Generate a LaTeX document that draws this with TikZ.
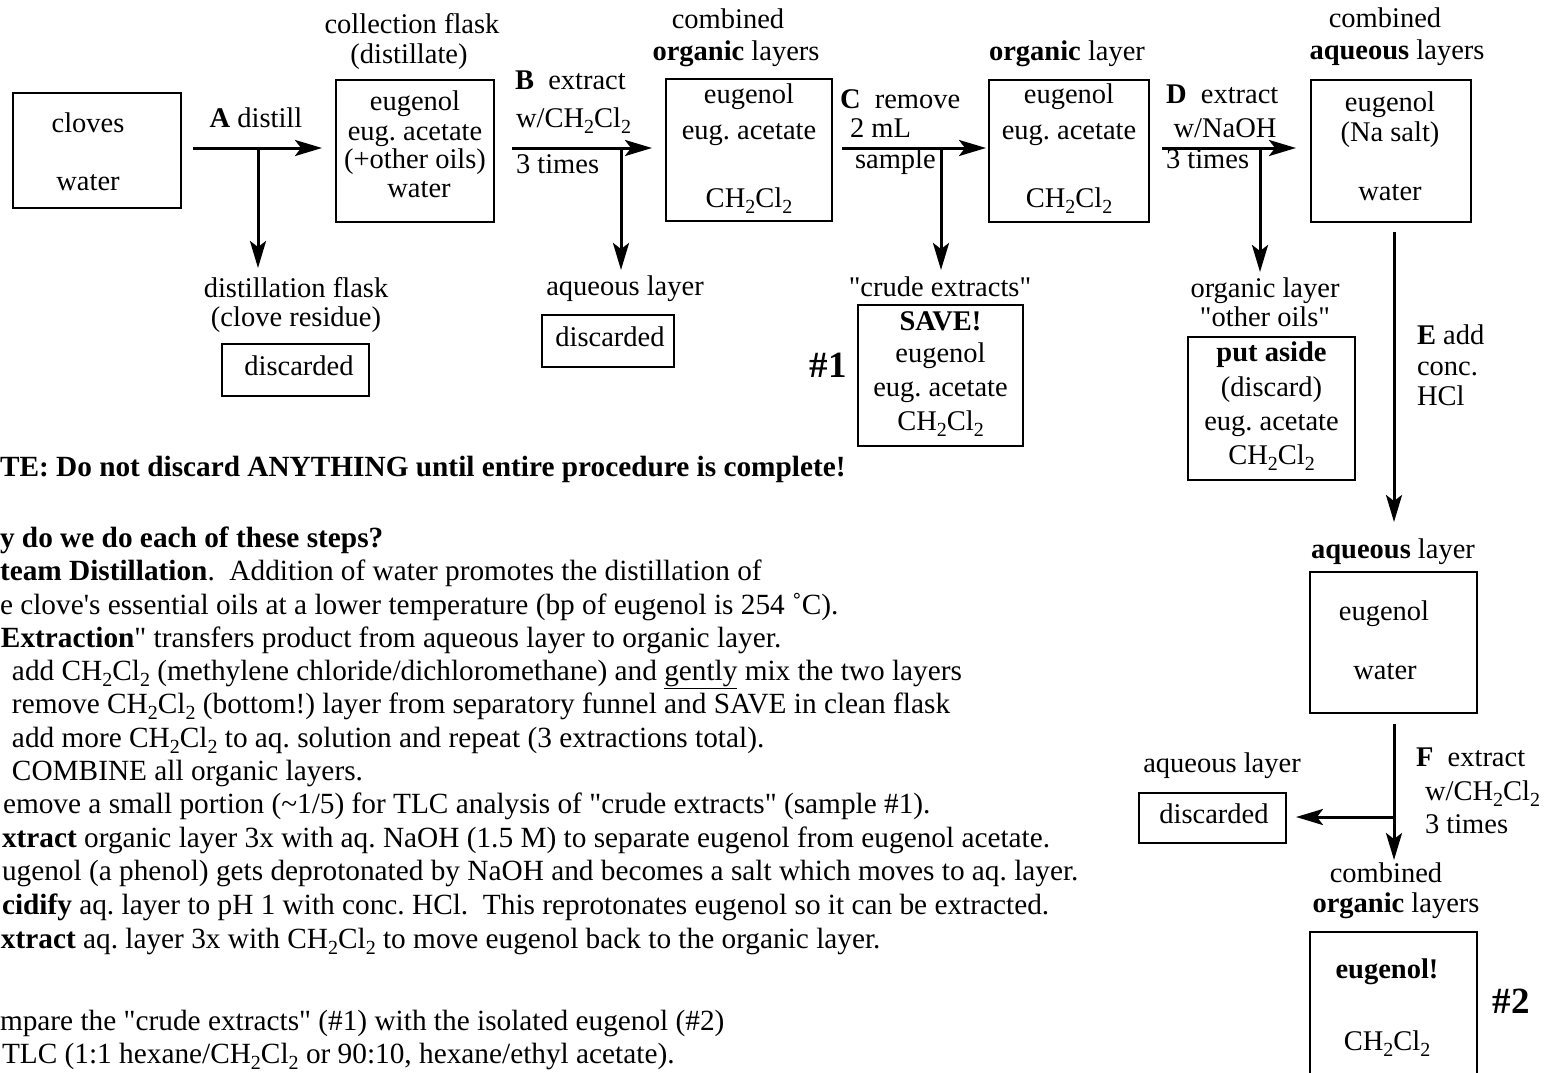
\documentclass[tikz,border=0pt]{standalone}
\usepackage{fontspec}
\setmainfont{Liberation Serif}
\usetikzlibrary{arrows.meta}
\newcommand\sbt[1]{\lower6pt\hbox{\fontsize{20}{20}\selectfont #1}}
\newcommand\chcl{CH\sbt{2}Cl\sbt{2}}
\newcommand\dq{\textquotedbl}
\begin{document}
\frenchspacing
\begin{tikzpicture}[x=1pt, y=-1pt,
  every node/.style={inner sep=0pt, outer sep=0pt},
  tx/.style={anchor=base, font=\fontsize{28.5}{33}\selectfont\frenchspacing},
  txl/.style={anchor=base west, font=\fontsize{28.5}{33}\selectfont\frenchspacing},
  nt/.style={anchor=base west, font=\fontsize{29.3}{33}\selectfont\frenchspacing},
  big/.style={anchor=base, font=\fontsize{37}{40}\selectfont\bfseries},
  box/.style={draw, line width=2pt},
  arr/.style={line width=3pt, -{Stealth[length=27pt,width=16pt,inset=6pt]}}]
\useasboundingbox (0,0) rectangle (1550,1072);
\clip (0,0) rectangle (1550,1072);

% ---------- boxes ----------
\node[box, minimum width=168pt, minimum height=115pt] (a) at (97,150.5) {};
\node[box, minimum width=158pt, minimum height=142pt] (b) at (415,151) {};
\node[box, minimum width=166pt, minimum height=142pt] (c) at (749,150) {};
\node[box, minimum width=160pt, minimum height=142pt] (d) at (1069,151) {};
\node[box, minimum width=160pt, minimum height=142pt] (e) at (1391,151) {};
\node[box, minimum width=147pt, minimum height=52pt] (r1) at (295.5,370) {};
\node[box, minimum width=132pt, minimum height=52pt] (r2) at (608,341) {};
\node[box, minimum width=165pt, minimum height=141pt] (s1) at (940.5,375.5) {};
\node[box, minimum width=167pt, minimum height=143pt] (s2) at (1271.5,408.5) {};
\node[box, minimum width=167pt, minimum height=141pt] (f) at (1393.5,642.5) {};
\node[box, minimum width=147pt, minimum height=50pt] (r3) at (1212.5,818) {};
\node[box, minimum width=167pt, minimum height=150pt] (g) at (1393.5,1007) {};

% ---------- box contents ----------
\node[tx] (a1) at (88,132) {cloves};
\node[tx] (a2) at (88,190) {water};
\node[tx] (b1) at (415,110) {eugenol};
\node[tx] (b2) at (415,140) {eug. acetate};
\node[tx] (b3) at (415,168) {(+other oils)};
\node[tx] (b4) at (419,197) {water};
\node[tx] (c1) at (749,103) {eugenol};
\node[tx] (c2) at (749,139) {eug. acetate};
\node[tx] (c3) at (749,207) {\chcl};
\node[tx] (d1) at (1069,103) {eugenol};
\node[tx] (d2) at (1069,139) {eug. acetate};
\node[tx] (d3) at (1069,207) {\chcl};
\node[tx] (e1) at (1390,111) {eugenol};
\node[tx] (e2) at (1390,141) {(Na salt)};
\node[tx] (e3) at (1390,200) {water};
\node[tx] (r1t) at (299,375) {discarded};
\node[tx] (r2t) at (610,346) {discarded};
\node[tx] (s1a) at (940.5,330) {\textbf{SAVE!}};
\node[tx] (s1b) at (940.5,362) {eugenol};
\node[tx] (s1c) at (940.5,396) {eug. acetate};
\node[tx] (s1d) at (940.5,430) {\chcl};
\node[tx] (s2a) at (1271.5,361) {\textbf{put aside}};
\node[tx] (s2b) at (1271.5,396) {(discard)};
\node[tx] (s2c) at (1271.5,430) {eug. acetate};
\node[tx] (s2d) at (1271.5,464) {\chcl};
\node[tx] (f1) at (1384,620) {eugenol};
\node[tx] (f2) at (1385,679) {water};
\node[tx] (r3t) at (1214,823) {discarded};
\node[tx] (g1) at (1387,978) {\textbf{eugenol!}};
\node[tx] (g2) at (1387,1050) {\chcl};

% ---------- labels above / below boxes ----------
\node[tx] (lb1) at (412,33) {collection flask};
\node[tx] (lb2) at (409,63) {(distillate)};
\node[tx] (lc1) at (728,28) {combined};
\node[tx] (lc2) at (736,60) {\textbf{organic} layers};
\node[tx] (ld) at (1067,60) {\textbf{organic} layer};
\node[tx] (le1) at (1385,27) {combined};
\node[tx] (le2) at (1397,59) {\textbf{aqueous} layers};
\node[tx] (lr1a) at (296,297) {distillation flask};
\node[tx] (lr1b) at (296,326) {(clove residue)};
\node[tx] (lr2) at (625,295) {aqueous layer};
\node[tx] (ls1) at (940,296) {\dq crude extracts\dq};
\node[tx] (ls2a) at (1265,297) {organic layer};
\node[tx] (ls2b) at (1265,326) {\dq other oils\dq};
\node[tx] (lf) at (1393,558) {\textbf{aqueous} layer};
\node[tx] (lr3) at (1222,772) {aqueous layer};
\node[tx] (lg1) at (1386,882) {combined};
\node[tx] (lg2) at (1396,912) {\textbf{organic} layers};
\node[big] (n1mark) at (828,377) {\#1};
\node[big] (n2mark) at (1511,1013) {\#2};

% ---------- step labels ----------
\node[tx] (la) at (256,127) {\textbf{A} distill};
\node[txl] (lB1) at (515,89) {\textbf{B}\ \ extract};
\node[txl] (lB2) at (516,127) {w/\chcl};
\node[txl] (lB3) at (516,173) {3 times};
\node[txl] (lC1) at (840,108) {\textbf{C}\ \ remove};
\node[txl] (lC2) at (850,137) {2 mL};
\node[txl] (lC3) at (855,168) {sample};
\node[txl] (lD1) at (1166,103) {\textbf{D}\ \ extract};
\node[tx] (lD2) at (1225,137) {w/NaOH};
\node[txl] (lD3) at (1166,168) {3 times};
\node[txl] (lE1) at (1417,344) {\textbf{E} add};
\node[txl] (lE2) at (1417,375) {conc.};
\node[txl] (lE3) at (1417,405) {HCl};
\node[txl] (lF1) at (1416,766) {\textbf{F}\ \ extract};
\node[txl] (lF2) at (1425,800) {w/\chcl};
\node[txl] (lF3) at (1425,833) {3 times};

% ---------- connectors ----------
\coordinate (jA) at (258,148); \coordinate (tA) at (258,268);
\coordinate (jB) at (621,148); \coordinate (tB) at (621,270);
\coordinate (jC) at (941,148); \coordinate (tC) at (941,270);
\coordinate (jD) at (1260,148); \coordinate (tD) at (1260,272);
\coordinate (tE) at (1394,522);
\coordinate (jF) at (1394,817); \coordinate (tF) at (1394,860);

\draw[arr, shorten <=12pt, shorten >=14pt] (a.east |- jA) -- (b.west |- jA);
\draw[arr] (jA) -- (tA);
\draw[arr, shorten <=18pt, shorten >=14pt] (b.east |- jB) -- (c.west |- jB);
\draw[arr] (jB) -- (tB);
\draw[arr, shorten <=10pt, shorten >=3pt] (c.east |- jC) -- (d.west |- jC);
\draw[arr] (jC) -- (tC);
\draw[arr, shorten <=13pt, shorten >=15pt] (d.east |- jD) -- (e.west |- jD);
\draw[arr] (jD) -- (tD);
\draw[arr, shorten <=10pt] (e.south -| tE) -- (tE);
\draw[arr, shorten <=11pt] (f.south -| tF) -- (tF);
\draw[arr, shorten >=10pt] (jF) -- (r3.east |- jF);

% ---------- notes ----------
\node[nt] (n1) at (0,476) {\textbf{TE: Do not discard ANYTHING until entire procedure is complete!}};
\node[nt] (n2) at (0,547) {\textbf{y do we do each of these steps?}};
\node[nt] (n3) at (0,580) {\textbf{team Distillation}.\ \ Addition of water promotes the distillation of};
\node[nt] (n4) at (0,614) {e clove\textquotesingle s essential oils at a lower temperature (bp of eugenol is 254 ˚C).};
\node[nt] (n5) at (1,647) {\textbf{Extraction}\dq{} transfers product from aqueous layer to organic layer.};
\node[nt] (n6) at (12,680) {add \chcl{} (methylene chloride/dichloromethane) and \underline{gently} mix the two layers};
\node[nt] (n7) at (12,713) {remove \chcl{} (bottom!) layer from separatory funnel and SAVE in clean flask};
\node[nt] (n8) at (12,747) {add more \chcl{} to aq. solution and repeat (3 extractions total).};
\node[nt] (n9) at (12,780) {COMBINE all organic layers.};
\node[nt] (n10) at (3,813) {emove a small portion (\textasciitilde1/5) for TLC analysis of \dq crude extracts\dq{} (sample \#1).};
\node[nt] (n11) at (2,847) {\textbf{xtract} organic layer 3x with aq. NaOH (1.5 M) to separate eugenol from eugenol acetate.};
\node[nt] (n12) at (2,880) {ugenol (a phenol) gets deprotonated by NaOH and becomes a salt which moves to aq. layer.};
\node[nt] (n13) at (2,914) {\textbf{cidify} aq. layer to pH 1 with conc. HCl.\ \ This reprotonates eugenol so it can be extracted.};
\node[nt] (n14) at (1,948) {\textbf{xtract} aq. layer 3x with \chcl{} to move eugenol back to the organic layer.};
\node[nt] (n15) at (0,1030) {mpare the \dq crude extracts\dq{} (\#1) with the isolated eugenol (\#2)};
\node[nt] (n16) at (2,1063) {TLC (1:1 hexane/\chcl{} or 90:10, hexane/ethyl acetate).};
\end{tikzpicture}
\end{document}
